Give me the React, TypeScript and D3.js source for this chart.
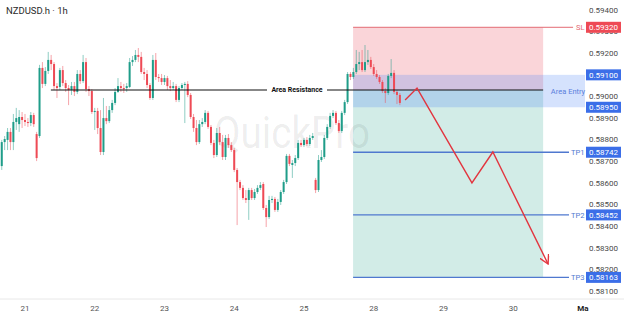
import React from 'react';
import * as d3 from 'd3';

// open, high, low, close (hourly)
const candles: [number, number, number, number][] = [
  [0.58678,0.58799,0.58660,0.58789],[0.58789,0.58817,0.58752,0.58803],[0.58799,0.58854,0.58752,0.58836],
  [0.58836,0.58854,0.58752,0.58789],[0.58789,0.58919,0.58752,0.58882],[0.58882,0.58947,0.58845,0.58900],
  [0.58872,0.58937,0.58836,0.58905],[0.58905,0.58928,0.58854,0.58891],[0.58891,0.58919,0.58863,0.58882],
  [0.58882,0.58900,0.58859,0.58877],[0.58877,0.58928,0.58863,0.58914],[0.58914,0.58924,0.58859,0.58872],
  [0.58826,0.58836,0.58701,0.58715],[0.58817,0.59146,0.58808,0.59132],[0.59132,0.59159,0.59039,0.59058],
  [0.59058,0.59136,0.59048,0.59118],[0.59118,0.59206,0.59104,0.59169],[0.59169,0.59192,0.59122,0.59150],
  [0.59150,0.59159,0.59030,0.59048],[0.59048,0.59062,0.58993,0.59039],[0.59044,0.59132,0.59030,0.59122],
  [0.59122,0.59141,0.59048,0.59062],[0.59062,0.59076,0.59021,0.59039],[0.59039,0.59053,0.58960,0.59030],
  [0.59030,0.59067,0.59007,0.59048],[0.59048,0.59067,0.59002,0.59021],[0.59021,0.59122,0.59011,0.59104],
  [0.59104,0.59122,0.59058,0.59071],[0.59071,0.59192,0.59062,0.59159],[0.59159,0.59178,0.59021,0.59034],
  [0.59034,0.59048,0.59002,0.59025],[0.59025,0.59034,0.58919,0.58928],[0.58928,0.58947,0.58845,0.58933],
  [0.58933,0.58947,0.58826,0.58854],[0.58854,0.58937,0.58729,0.58743],[0.58743,0.58993,0.58729,0.58900],
  [0.58900,0.58956,0.58872,0.58886],[0.58886,0.58956,0.58877,0.58937],[0.58937,0.58984,0.58924,0.58970],
  [0.58970,0.59039,0.58960,0.59021],[0.59021,0.59085,0.59016,0.59048],[0.59048,0.59067,0.59021,0.59039],
  [0.59039,0.59058,0.59016,0.59034],[0.59039,0.59062,0.59021,0.59048],[0.59044,0.59178,0.59039,0.59159],
  [0.59159,0.59187,0.59141,0.59169],[0.59169,0.59215,0.59159,0.59192],[0.59192,0.59224,0.59159,0.59183],
  [0.59183,0.59206,0.59104,0.59113],[0.59113,0.59132,0.59076,0.59104],[0.59104,0.59122,0.59039,0.59053],
  [0.59053,0.59062,0.58984,0.58993],[0.58993,0.59192,0.58984,0.59169],[0.59169,0.59201,0.59076,0.59090],
  [0.59090,0.59104,0.59067,0.59085],[0.59085,0.59104,0.59053,0.59067],[0.59067,0.59099,0.59053,0.59085],
  [0.59085,0.59095,0.59030,0.59048],[0.59048,0.59076,0.59025,0.59039],[0.59039,0.59067,0.59030,0.59048],
  [0.59048,0.59058,0.58974,0.58984],[0.58984,0.59048,0.58974,0.59039],[0.59039,0.59062,0.59030,0.59053],
  [0.59053,0.59067,0.58877,0.59058],[0.59058,0.59071,0.58997,0.59007],[0.59007,0.59016,0.58896,0.58905],
  [0.58905,0.58919,0.58836,0.58854],[0.58854,0.58891,0.58775,0.58789],[0.58789,0.58891,0.58780,0.58872],
  [0.58872,0.58900,0.58859,0.58882],[0.58882,0.58937,0.58872,0.58924],[0.58924,0.58933,0.58850,0.58859],
  [0.58859,0.58868,0.58775,0.58785],[0.58785,0.58799,0.58715,0.58729],[0.58729,0.58854,0.58720,0.58831],
  [0.58831,0.58859,0.58775,0.58789],[0.58789,0.58822,0.58706,0.58720],[0.58720,0.58822,0.58706,0.58808],
  [0.58808,0.58826,0.58762,0.58775],[0.58775,0.58789,0.58743,0.58752],[0.58752,0.58762,0.58650,0.58660],
  [0.58660,0.58669,0.58405,0.58604],[0.58604,0.58614,0.58567,0.58577],[0.58577,0.58590,0.58521,0.58530],
  [0.58530,0.58567,0.58507,0.58521],[0.58521,0.58577,0.58429,0.58567],[0.58567,0.58577,0.58521,0.58530],
  [0.58530,0.58572,0.58521,0.58558],[0.58558,0.58590,0.58549,0.58577],[0.58577,0.58604,0.58567,0.58590],
  [0.58595,0.58604,0.58475,0.58484],[0.58484,0.58498,0.58396,0.58442],[0.58442,0.58540,0.58433,0.58521],
  [0.58521,0.58540,0.58507,0.58526],[0.58526,0.58535,0.58466,0.58475],[0.58475,0.58526,0.58466,0.58512],
  [0.58512,0.58567,0.58498,0.58558],[0.58558,0.58614,0.58549,0.58604],[0.58604,0.58734,0.58595,0.58725],
  [0.58725,0.58734,0.58678,0.58688],[0.58683,0.58706,0.58623,0.58692],[0.58692,0.58729,0.58678,0.58715],
  [0.58715,0.58799,0.58706,0.58785],[0.58785,0.58799,0.58766,0.58775],[0.58775,0.58808,0.58766,0.58799],
  [0.58799,0.58812,0.58771,0.58780],[0.58780,0.58822,0.58771,0.58808],[0.58808,0.58831,0.58799,0.58817],
  [0.58614,0.58623,0.58553,0.58567],[0.58567,0.58729,0.58558,0.58706],[0.58706,0.58752,0.58697,0.58720],
  [0.58720,0.58822,0.58711,0.58808],[0.58808,0.58872,0.58799,0.58859],[0.58859,0.58924,0.58850,0.58910],
  [0.58910,0.58937,0.58900,0.58924],[0.58924,0.58933,0.58868,0.58877],[0.58877,0.58891,0.58831,0.58840],
  [0.58840,0.58933,0.58831,0.58924],[0.58924,0.58984,0.58914,0.58974],[0.58974,0.59113,0.58965,0.59104],
  [0.59104,0.59113,0.59076,0.59090],[0.59090,0.59132,0.59081,0.59113],[0.59113,0.59215,0.59104,0.59150],
  [0.59150,0.59206,0.59122,0.59159],[0.59159,0.59215,0.59113,0.59122],[0.59122,0.59238,0.59113,0.59159],
  [0.59159,0.59215,0.59146,0.59169],[0.59169,0.59183,0.59127,0.59136],[0.59136,0.59150,0.59095,0.59104],
  [0.59104,0.59122,0.59081,0.59090],[0.59090,0.59099,0.59058,0.59067],[0.59067,0.59076,0.59016,0.59025],
  [0.59025,0.59039,0.58970,0.59016],[0.59016,0.59104,0.59007,0.59095],[0.59095,0.59173,0.59085,0.59109],
  [0.59109,0.59122,0.59011,0.59021],[0.59021,0.59030,0.58965,0.59007],[0.59007,0.59016,0.58960,0.58970],
];

const priceTicks = [0.594, 0.593, 0.592, 0.591, 0.590, 0.589, 0.588, 0.587, 0.586, 0.585, 0.584, 0.583, 0.582, 0.581];
const dayLabels = ['21', '22', '23', '24', '25', '28', '29', '30', 'Ma'];
const dayIndex = [8, 32, 56, 80, 104, 128, 152, 176, 200];

const slPrice = 0.5932;
const entryTop = 0.591;
const entryBottom = 0.5895;
const resistance = 0.5903;
const tpLabels = ['TP1', 'TP2', 'TP3'];
const tpPrices = [0.58742, 0.58452, 0.58163];
const zoneStart = 120.9;
const zoneEnd = 186.3;
const resistanceStart = 16.9;
const projection: [number, number][] = [
  [138.8, 0.58984], [142.9, 0.59039], [161.8, 0.586], [169.0, 0.58743], [188.0, 0.58225],
];

const GREEN = '#1f9d89';
const RED = '#ee4a55';
const BLUE = '#3b6ee8';

export default function App() {
  const x = d3.scaleLinear().domain([0, 200]).range([1.75, 1.75 + 2.906 * 200]);
  const y = d3.scaleLinear().domain([0.581, 0.594]).range([291, 10]);
  const bw = 2;
  const line = d3.line<[number, number]>().x(d => x(d[0])).y(d => y(d[1]));
  const fmt = d3.format('.5f');

  const zx0 = x(zoneStart), zx1 = x(zoneEnd);
  const boxes = [
    { v: slPrice, c: RED },
    { v: entryTop, c: BLUE },
    { v: entryBottom, c: BLUE },
    ...tpPrices.map(v => ({ v, c: BLUE })),
  ];

  return (
    <svg width={624} height={316} style={{ position: 'absolute', left: 0, top: 0, display: 'block' }}
      fontFamily="Roboto, 'Noto Sans', sans-serif">
      <defs>
        <marker id="arr" viewBox="0 0 10 10" refX="9" refY="5" markerWidth="10" markerHeight="10"
          markerUnits="userSpaceOnUse" orient="auto">
          <path d="M0,0 L9,5 L0,10" fill="none" stroke="#e2353f" strokeWidth="1.4" />
        </marker>
      </defs>
      <rect x={0} y={0} width={624} height={316} fill="#ffffff" />

      {/* zones */}
      <rect x={zx0} y={y(slPrice)} width={zx1 - zx0} height={y(resistance) - y(slPrice)} fill="#fad5d9" />
      <rect x={zx0} y={y(resistance)} width={zx1 - zx0} height={y(tpPrices[2]) - y(resistance)} fill="#d2ece7" />
      <rect x={zx0} y={y(entryTop)} width={x(200.7) - zx0} height={y(entryBottom) - y(entryTop)} fill="rgba(80,135,245,0.24)" />

      {/* watermark */}
      <text x={214} y={148} fontSize={44} fill="#000" fillOpacity={0.075} textLength={156}
        lengthAdjust="spacingAndGlyphs" fontFamily="Roboto, sans-serif">QuickPro</text>

      {/* candles */}
      {candles.map(([o, h, l, c], i) => {
        const up = c >= o;
        const col = up ? GREEN : RED;
        const cx = x(i);
        const top = y(Math.max(o, c));
        const bh = Math.max(1, Math.abs(y(o) - y(c)));
        return (
          <g key={i}>
            <line x1={cx} x2={cx} y1={y(h)} y2={y(l)} stroke={col} strokeOpacity={0.5} strokeWidth={1} />
            <rect x={cx - bw / 2} y={top} width={bw} height={bh} fill={col} />
          </g>
        );
      })}

      {/* resistance line */}
      <line x1={x(resistanceStart)} x2={zx1} y1={y(resistance)} y2={y(resistance)} stroke="#111" strokeWidth={1.2} />
      <rect x={267} y={y(resistance) - 5} width={60} height={10} fill="#fff" />
      <text x={297} y={y(resistance)} dy="0.35em" textAnchor="middle" fontSize={7} fontWeight="bold" fill="#111">Area Resistance</text>

      {/* SL line */}
      <line x1={zx0} x2={x(196.6)} y1={y(slPrice)} y2={y(slPrice)} stroke="#e36a73" strokeWidth={1} />
      <text x={576} y={y(slPrice)} dy="0.35em" fontSize={7.5} fill="#e36a73">SL</text>

      {/* TP lines */}
      {tpPrices.map((v, k) => (
        <g key={k}>
          <line x1={zx0} x2={x(195.2)} y1={y(v)} y2={y(v)} stroke="#4f78cf" strokeWidth={1.3} />
          <text x={571} y={y(v)} dy="0.35em" fontSize={7.5} fill="#4f78cf">{tpLabels[k]}</text>
        </g>
      ))}

      <text x={568} y={y((entryTop + entryBottom) / 2)} dy="0.35em" textAnchor="middle" fontSize={7.5} fill="#5a80dc">Area Entry</text>

      {/* projection */}
      <path d={line(projection) || ''} fill="none" stroke="#e2353f" strokeWidth={1.4} markerEnd="url(#arr)" />

      {/* price axis */}
      {priceTicks.map(v => (
        <text key={v} x={618} y={y(v)} dy="0.35em" textAnchor="end" fontSize={8} fill="#4a4a4a">{fmt(v)}</text>
      ))}
      {boxes.map((b, k) => (
        <g key={k}>
          <rect x={586} y={y(b.v) - 5.5} width={35} height={11} fill={b.c} />
          <text x={603.5} y={y(b.v)} dy="0.35em" textAnchor="middle" fontSize={8} fill="#fff">{fmt(b.v)}</text>
        </g>
      ))}

      {/* time axis */}
      <line x1={0} x2={624} y1={299} y2={299} stroke="#e8e8e8" strokeWidth={1} />
      {dayLabels.map((d, k) => (
        <text key={d} x={x(dayIndex[k])} y={308} dy="0.35em" textAnchor="middle" fontSize={8}
          fill={d === 'Ma' ? '#222' : '#555'} fontWeight={d === 'Ma' ? 'bold' : 'normal'}>{d}</text>
      ))}

      <text x={6} y={14} fontSize={9.5} fill="#2b2b2b">NZDUSD.h · 1h</text>
    </svg>
  );
}
